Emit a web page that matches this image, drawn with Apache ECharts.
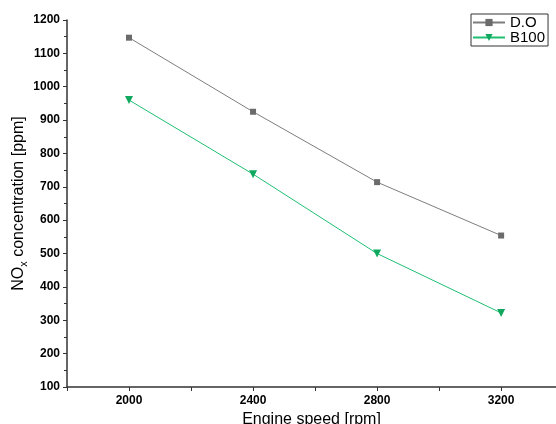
<!DOCTYPE html>
<html>
<head>
<meta charset="utf-8">
<script src="https://cdn.jsdelivr.net/npm/echarts@6/dist/echarts.min.js"></script>
<style>
  html, body { margin: 0; padding: 0; background: #fff; }
  #main { width: 556px; height: 424px; }
</style>
</head>
<body>
<div id="main"></div>
<script>
// engine speed [rpm]
var speeds = [2000, 2400, 2800, 3200];
// NOx concentration [ppm]
var dieselNox = [1147, 925, 714, 554];
var b100Nox = [960, 738, 500, 322];
var seriesNames = ['D.O', 'B100'];

function pairs(xs, ys) {
	return xs.map(function (x, i) { return [x, ys[i]]; });
}

var chart = echarts.init(document.getElementById('main'));
var option = {
	animation: false,
	textStyle: { fontFamily: 'Liberation Sans, Arial, sans-serif' },
	grid: { left: 67, right: 0, top: 20, bottom: 37, outerBoundsMode: 'none', containLabel: false },
	legend: {
		orient: 'vertical',
		left: 471,
		top: 14,
		width: 74,
		padding: [1, 3, 1, 1],
		borderColor: '#333',
		borderWidth: 1,
		itemWidth: 32,
		itemHeight: 9,
		itemGap: 0,
		textStyle: { fontSize: 15, color: '#000' },
		data: seriesNames
	},
	xAxis: {
		type: 'value',
		min: 1800,
		max: 3377,
		interval: 200,
		name: 'Engine speed [rpm]',
		nameLocation: 'middle',
		nameGap: 25,
		nameMoveOverlap: false,
		nameTextStyle: { fontSize: 16, color: '#000' },
		splitLine: { show: false },
		axisLine: { lineStyle: { color: '#333', width: 1.5 } },
		axisTick: { length: 4, lineStyle: { color: '#333' } },
		axisLabel: {
			fontSize: 12, fontWeight: 'bold', color: '#000', margin: 8,
			formatter: function (v) { return v % 400 === 0 ? String(v) : ''; }
		}
	},
	yAxis: {
		type: 'value',
		min: 100,
		max: 1200,
		interval: 100,
		name: 'NO{sub|x} concentration [ppm]',
		nameLocation: 'middle',
		nameGap: 38,
		nameMoveOverlap: false,
		nameTextStyle: {
			fontSize: 16, color: '#000', lineHeight: 20,
			rich: { sub: { fontSize: 11, color: '#000', verticalAlign: 'bottom', padding: [9, 0, 0, 0] } }
		},
		splitLine: { show: false },
		axisLine: { show: true, lineStyle: { color: '#333', width: 1.5 } },
		axisTick: { show: true, length: 4, lineStyle: { color: '#333' } },
		minorTick: { show: true, splitNumber: 2, length: 3, lineStyle: { color: '#333' } },
		axisLabel: {
			fontSize: 12, fontWeight: 'bold', color: '#000', margin: 7,
			formatter: function (v) { return String(v); }
		}
	},
	series: [
		{
			name: seriesNames[0],
			type: 'line',
			data: pairs(speeds, dieselNox),
			symbol: 'rect',
			symbolSize: 6,
			lineStyle: { color: '#7d7d7d', width: 1 },
			itemStyle: { color: '#6b6b6b' }
		},
		{
			name: seriesNames[1],
			type: 'line',
			data: pairs(speeds, b100Nox),
			symbol: 'triangle',
			symbolRotate: 180,
			symbolSize: 8,
			lineStyle: { color: '#1fbf72', width: 1 },
			itemStyle: { color: '#10a85e' }
		}
	]
};
chart.setOption(option);
</script>
</body>
</html>
